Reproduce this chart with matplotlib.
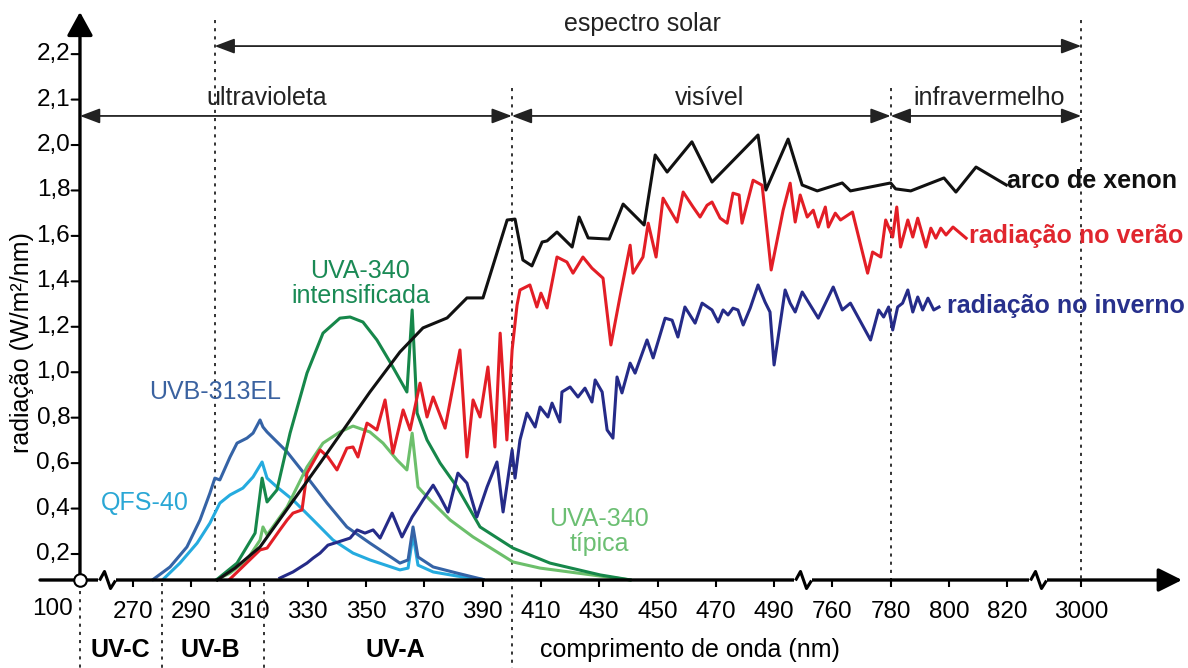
import numpy as np
import matplotlib
matplotlib.use('Agg')
import matplotlib.pyplot as plt
from matplotlib import transforms
from matplotlib.path import Path

plt.rcParams['font.family'] = ['Liberation Sans', 'DejaVu Sans']

# broken wavelength axis: real nm -> drawing position
brk_nm = [-1000, 100, 270, 490, 760, 820, 3000, 20000]
brk_pos = [134.0, 251.8, 270, 490, 510, 570, 595.4, 793.5]
# radiation axis: steps of 0.2 up to 2,0 then steps of 0.1 with the same spacing
rad_val = [-1.0, 2.0, 3.0]
rad_pos = [-5.0, 10.0, 20.0]

x_ticks = [270, 290, 310, 330, 350, 370, 390, 410, 430, 450, 470, 490, 760, 780, 800, 820, 3000]
y_ticks = [0.2, 0.4, 0.6, 0.8, 1.0, 1.2, 1.4, 1.6, 1.8, 2.0, 2.1, 2.2]
y_floor = 0.0856

# arco de xenon
xenon_nm = [299, 305, 313.6, 334.2, 351.3, 361.6, 369.5, 377.8, 384.6, 390.1, 398.4, 401.1,
            403.8, 406.9, 410.4, 412.1, 415.5, 420.7, 423.1, 426.2, 433.4, 438.2, 445.4, 449.2,
            453.3, 461.8, 468.7, 484.5, 487.2, 555, 620, 690, 763.4, 766.2, 780, 781.7, 786.9,
            798.3, 802.4, 809.3, 819.7]
xenon_val = [0.086, 0.138, 0.231, 0.60, 0.913, 1.089, 1.195, 1.239, 1.327, 1.327, 1.670, 1.674,
             1.494, 1.468, 1.573, 1.578, 1.617, 1.551, 1.683, 1.591, 1.586, 1.740, 1.648, 1.956,
             1.881, 2.007, 1.837, 2.022, 1.802, 2.013, 1.824, 1.798, 1.833, 1.798, 1.833, 1.807,
             1.798, 1.855, 1.793, 1.903, 1.824]

# radiação no verão
summer_nm = [303.3, 313.6, 316.0, 320.4, 322.9, 324.9, 328.0, 329.7, 334.2, 336.9, 340.0, 343.4,
             345.5, 347.2, 350.3, 351.3, 353.7, 356.5, 359.2, 362.7, 365.1, 368.5, 370.9, 373.0,
             377.1, 382.2, 384.6, 386.7, 389.1, 391.8, 394.2, 396.0, 398.3, 400.1, 401.8, 402.8,
             406.2, 408.6, 410.0, 412.1, 415.5, 418.9, 421.0, 424.4, 427.5, 431.3, 434.0, 437.1,
             440.6, 441.6, 445.0, 446.8, 449.5, 451.9, 456.7, 458.8, 462.2, 464.6, 467.0, 468.7,
             471.5, 473.9, 475.9, 478.0, 479.0, 482.8, 485.9, 489.0, 531.9, 564.5, 587.8, 611.0,
             643.6, 671.5, 694.8, 727.4, 741.4, 761.0, 762.8, 766.9, 772.1, 773.8, 776.6, 778.3,
             780.7, 782.1, 783.4, 785.9, 787.6, 789.3, 792.1, 793.8, 795.5, 797.2, 799.0, 801.4,
             805.9]
summer_val = [0.09, 0.218, 0.226, 0.306, 0.350, 0.380, 0.394, 0.556, 0.658, 0.627, 0.570, 0.666,
              0.671, 0.627, 0.776, 0.768, 0.746, 0.878, 0.644, 0.834, 0.746, 0.952, 0.803, 0.891,
              0.754, 1.098, 0.627, 0.878, 0.803, 1.023, 0.671, 1.172, 0.702, 1.098, 1.296, 1.362,
              1.384, 1.287, 1.348, 1.283, 1.507, 1.485, 1.436, 1.507, 1.458, 1.414, 1.120, 1.331,
              1.559, 1.436, 1.507, 1.656, 1.507, 1.766, 1.661, 1.793, 1.727, 1.683, 1.735, 1.749,
              1.678, 1.656, 1.788, 1.780, 1.656, 1.845, 1.823, 1.450, 1.713, 1.832, 1.661, 1.780,
              1.683, 1.713, 1.639, 1.727, 1.639, 1.700, 1.670, 1.705, 1.436, 1.529, 1.507, 1.670,
              1.595, 1.727, 1.551, 1.670, 1.595, 1.678, 1.551, 1.634, 1.590, 1.634, 1.604, 1.639,
              1.590]

# radiação no inverno
winter_nm = [320.4, 324.9, 329.7, 331.8, 334.2, 336.9, 340.4, 344.5, 346.9, 349.6, 352.4, 354.8,
             358.9, 362.3, 365.8, 367.8, 369.5, 373.0, 375.4, 378.1, 381.5, 384.6, 388.0, 391.5,
             394.9, 397.0, 400.1, 401.1, 402.8, 405.2, 408.0, 409.7, 412.4, 413.8, 416.5, 417.2,
             420.0, 422.7, 425.1, 427.5, 428.6, 431.0, 432.7, 434.7, 436.1, 437.8, 440.6, 442.3,
             446.4, 448.5, 452.6, 455.0, 457.0, 459.4, 462.9, 465.3, 468.7, 470.8, 472.5, 474.2,
             475.9, 477.6, 479.4, 481.8, 484.5, 486.9, 488.6, 490.0, 541.2, 564.5, 587.8, 620.3,
             694.8, 760.3, 763.4, 766.2, 773.1, 775.9, 777.6, 779.3, 780.7, 782.4, 784.1, 785.9,
             787.6, 789.3, 791.0, 792.8, 794.8, 796.6]
winter_val = [0.094, 0.121, 0.160, 0.182, 0.204, 0.239, 0.253, 0.270, 0.306, 0.292, 0.306, 0.270,
              0.380, 0.275, 0.363, 0.402, 0.437, 0.503, 0.451, 0.385, 0.556, 0.512, 0.363, 0.495,
              0.605, 0.385, 0.658, 0.534, 0.702, 0.820, 0.759, 0.847, 0.803, 0.864, 0.781, 0.913,
              0.935, 0.891, 0.930, 0.869, 0.966, 0.913, 0.746, 0.710, 0.979, 0.909, 1.040, 0.996,
              1.142, 1.063, 1.238, 1.229, 1.155, 1.287, 1.216, 1.304, 1.274, 1.221, 1.274, 1.252,
              1.282, 1.274, 1.208, 1.282, 1.384, 1.309, 1.265, 1.032, 1.362, 1.304, 1.265, 1.353,
              1.238, 1.375, 1.274, 1.304, 1.142, 1.274, 1.243, 1.287, 1.186, 1.287, 1.304, 1.362,
              1.265, 1.331, 1.274, 1.326, 1.274, 1.287]

# UVA-340 intensificada
uva_int_nm = [298.8, 305.7, 311.9, 314.3, 316.0, 319.4, 323.9, 329.7, 335.2, 341.0, 344.5, 348.9,
              353.7, 358.2, 364.0, 365.8, 367.5, 370.9, 375.4, 381.2, 389.1, 400.4, 413.1, 430.3,
              440.6]
uva_int_val = [0.088, 0.160, 0.292, 0.534, 0.429, 0.482, 0.732, 0.996, 1.172, 1.238, 1.243, 1.221,
               1.142, 1.045, 0.913, 1.274, 0.820, 0.702, 0.600, 0.495, 0.319, 0.226, 0.160, 0.108,
               0.086]

# UVA-340 típica
uva_typ_nm = [298.8, 303.3, 309.1, 313.6, 314.6, 316.0, 322.9, 329.7, 335.2, 341.0, 345.5, 351.3,
              355.8, 360.6, 364.0, 365.8, 367.8, 371.9, 378.8, 386.7, 400.4, 409.7, 430.3, 440.6]
uva_typ_val = [0.088, 0.116, 0.174, 0.261, 0.319, 0.284, 0.407, 0.583, 0.688, 0.737, 0.763, 0.737,
               0.688, 0.614, 0.570, 0.732, 0.495, 0.438, 0.350, 0.275, 0.165, 0.138, 0.103, 0.086]

# UVB-313EL
uvb_nm = [276.9, 282.7, 288.5, 293.0, 296.4, 298.1, 299.8, 303.3, 305.7, 309.1, 311.2, 313.6,
          314.6, 316.0, 322.9, 329.7, 336.6, 343.4, 351.3, 361.6, 364.4, 366.1, 367.8, 373.0,
          381.2, 390.1]
uvb_val = [0.088, 0.143, 0.231, 0.350, 0.468, 0.534, 0.526, 0.627, 0.688, 0.710, 0.732, 0.790,
           0.759, 0.737, 0.649, 0.539, 0.424, 0.319, 0.248, 0.160, 0.174, 0.319, 0.187, 0.143,
           0.116, 0.088]

# QFS-40
qfs_nm = [280.3, 286.1, 292.0, 296.4, 299.8, 303.3, 307.7, 311.2, 314.3, 316.0, 319.4, 324.9,
          331.8, 338.6, 345.5, 351.3, 361.6, 364.4, 366.1, 367.8, 373.0, 381.2, 390.1]
qfs_val = [0.088, 0.160, 0.248, 0.336, 0.424, 0.460, 0.490, 0.539, 0.605, 0.534, 0.495, 0.438,
           0.350, 0.262, 0.204, 0.174, 0.130, 0.138, 0.284, 0.151, 0.121, 0.103, 0.088]


def x_fwd(v):
    return np.interp(v, brk_nm, brk_pos)


def x_inv(p):
    return np.interp(p, brk_pos, brk_nm)


def y_fwd(v):
    return np.interp(v, rad_val, rad_pos)


def y_inv(p):
    return np.interp(p, rad_pos, rad_val)


fig = plt.figure(figsize=(11.88, 6.68), dpi=100)
ax = fig.add_axes([40 / 1188, 88 / 668, 1142 / 1188, 568 / 668])
ax.set_xscale('function', functions=(x_fwd, x_inv))
ax.set_yscale('function', functions=(y_fwd, y_inv))
ax.set_xlim(x_inv(270 + (40 - 133) / 2.914), x_inv(270 + (1182 - 133) / 2.914))
ax.set_ylim(y_floor, 2.2927)
for s in ax.spines.values():
    s.set_visible(False)

blend = transforms.blended_transform_factory(ax.transData, ax.transAxes)

# curves
lw = 2.2
ax.plot(qfs_nm, qfs_val, color='#25abdf', lw=lw, clip_on=False, zorder=3)
ax.plot(uvb_nm, uvb_val, color='#3563a6', lw=lw, clip_on=False, zorder=3)
ax.plot(uva_typ_nm, uva_typ_val, color='#6cbf6b', lw=lw, clip_on=False, zorder=3)
ax.plot(uva_int_nm, uva_int_val, color='#16874a', lw=lw, clip_on=False, zorder=4)
ax.plot(winter_nm, winter_val, color='#252b88', lw=lw, clip_on=False, zorder=4)
ax.plot(summer_nm, summer_val, color='#e31e26', lw=lw, clip_on=False, zorder=4)
ax.plot(xenon_nm, xenon_val, color='#111111', lw=lw, clip_on=False, zorder=4)

# ticks
ax.set_xticks(x_ticks)
ax.set_xticklabels([str(t) for t in x_ticks])
ax.minorticks_off()
ax.tick_params(axis='x', direction='out', length=5, width=1.5, pad=10, labelsize=17.5)
ax.set_yticks([])
# y ticks drawn next to the y axis at 100 nm
for v in y_ticks:
    ax.annotate('', xy=(100, v), xytext=(-6, 0), textcoords='offset points',
                arrowprops=dict(arrowstyle='-', lw=1.5, color='k', shrinkA=0, shrinkB=0))
    ax.annotate(('%.1f' % v).replace('.', ','), xy=(100, v), xytext=(-7, 0),
                textcoords='offset points', ha='right', va='center', fontsize=17.5)
ax.annotate('100', xy=(100, 0), xycoords=blend, xytext=(-5, -13), textcoords='offset points',
            ha='right', va='top', fontsize=17.5)

# axes arrows
ax.annotate('', xy=(1, 0), xytext=(0, 0), xycoords='axes fraction',
            arrowprops=dict(arrowstyle='-|>,head_length=0.6,head_width=0.3', mutation_scale=24,
                            lw=2.4, color='k', shrinkA=0, shrinkB=0), zorder=6)
ax.annotate('', xy=(100, 1), xytext=(100, 0), xycoords=blend,
            arrowprops=dict(arrowstyle='-|>,head_length=0.6,head_width=0.33', mutation_scale=24,
                            lw=2.4, color='k', shrinkA=0, shrinkB=0), zorder=6)

# axis breaks
zig = Path([(-8, 0), (-3, 9), (3, -8), (8, 0)])
gap = Path([(-8, 0), (8, 0)])
for b in [186.9, 623.7, 1730]:
    ax.plot([b], [y_floor], marker=gap, ms=13, mec='white', mfc='none', mew=4,
            clip_on=False, zorder=7)
    ax.plot([b], [y_floor], marker=zig, ms=13, mec='k', mfc='none', mew=2.2,
            clip_on=False, zorder=8)
ax.plot([100], [y_floor], 'o', ms=9, mfc='white', mec='k', mew=1.5, clip_on=False, zorder=9)

# dotted guides
dot = dict(color='#333333', lw=1.4, ls=(0, (1.6, 2.6)), clip_on=False, zorder=2)
ax.plot([298, 298], [0.986, 0.012], transform=blend, **dot)
ax.plot([400, 400], [0.866, -0.155], transform=blend, **dot)
ax.plot([780, 780], [0.866, 0], transform=blend, **dot)
ax.plot([3000, 3000], [0.986, 0], transform=blend, **dot)
ax.plot([100, 100], [-0.02, -0.155], transform=blend, **dot)
ax.plot([280, 280], [-0.005, -0.155], transform=blend, **dot)
ax.plot([315, 315], [-0.005, -0.155], transform=blend, **dot)

# range arrows
rng = dict(arrowstyle='<|-|>,head_length=0.45,head_width=0.17', mutation_scale=27,
           lw=1.3, color='#222222', shrinkA=0, shrinkB=0)
ax.annotate('', xy=(3000, 0.940), xytext=(298, 0.940), xycoords=blend, arrowprops=rng)
ax.annotate('', xy=(400, 0.817), xytext=(100, 0.817), xycoords=blend, arrowprops=rng)
ax.annotate('', xy=(780, 0.817), xytext=(400, 0.817), xycoords=blend, arrowprops=rng)
ax.annotate('', xy=(3000, 0.817), xytext=(780, 0.817), xycoords=blend, arrowprops=rng)
txt = dict(transform=blend, ha='center', va='center', fontsize=18, color='#222222')
ax.text(444.7, 0.979, 'espectro solar', **txt)
ax.text(315.8, 0.849, 'ultravioleta', **txt)
ax.text(467.7, 0.849, 'visível', **txt)
ax.text(813.7, 0.849, 'infravermelho', **txt)

# bottom labels
ax.text(228, -0.123, 'UV-C', transform=blend, ha='center', va='center', fontsize=18,
        fontweight='bold')
ax.text(296.4, -0.123, 'UV-B', transform=blend, ha='center', va='center', fontsize=18,
        fontweight='bold')
ax.text(359.9, -0.123, 'UV-A', transform=blend, ha='center', va='center', fontsize=18,
        fontweight='bold')
ax.text(461, -0.123, 'comprimento de onda (nm)', transform=blend, ha='center', va='center',
        fontsize=18)
fig.text(22 / 1188, 1 - 343 / 668, 'radiação (W/m²/nm)', rotation=90, ha='center',
         va='center', fontsize=18)

# curve labels
ax.text(824, 1.84, 'arco de xenon', ha='left', va='center', fontsize=18, fontweight='bold',
        color='#111111')
ax.text(807, 1.599, 'radiação no verão', ha='left', va='center', fontsize=18,
        fontweight='bold', color='#e0262e')
ax.text(799.5, 1.29, 'radiação no inverno', ha='left', va='center', fontsize=18,
        fontweight='bold', color='#27308c')
ax.text(348, 1.39, 'UVA-340\nintensificada', ha='center', va='center', fontsize=18,
        color='#1a8a55', linespacing=1.05)
ax.text(298.1, 0.913, 'UVB-313EL', ha='center', va='center', fontsize=18, color='#3a62a0')
ax.text(274, 0.424, 'QFS-40', ha='center', va='center', fontsize=18, color='#2aa7d5')
ax.text(430, 0.301, 'UVA-340\ntípica', ha='center', va='center', fontsize=18,
        color='#6cbf73', linespacing=1.05)

fig.savefig('out.png', dpi=100)
